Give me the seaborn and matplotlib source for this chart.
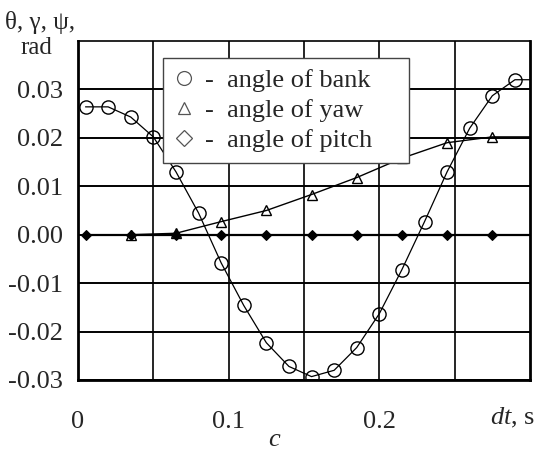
import matplotlib
matplotlib.use("Agg")
import matplotlib.pyplot as plt
from matplotlib.lines import Line2D
import seaborn as sns
import pandas as pd

# data
bank_t = [0.005, 0.02, 0.035, 0.05, 0.065, 0.08, 0.095, 0.11, 0.125, 0.14,
          0.155, 0.17, 0.185, 0.2, 0.215, 0.23, 0.245, 0.26, 0.275, 0.29, 0.3]
bank = [0.0264, 0.0264, 0.0243, 0.0202, 0.0130, 0.0045, -0.0058, -0.0146, -0.0223, -0.0272,
        -0.0293, -0.0280, -0.0233, -0.0163, -0.0072, 0.0027, 0.0130, 0.0220, 0.0287, 0.0320, 0.0320]

yaw_t = [0.035, 0.065, 0.095, 0.125, 0.155, 0.185, 0.215, 0.245, 0.275, 0.3]
yaw = [0.0, 0.0003, 0.0027, 0.0050, 0.0083, 0.0118, 0.0158, 0.0190, 0.0202, 0.0202]

pitch_t = [0.005, 0.035, 0.065, 0.095, 0.125, 0.155, 0.185, 0.215, 0.245, 0.275, 0.3]
pitch = [0.0, 0.0, 0.0, 0.0, 0.0, 0.0, 0.0, 0.0, 0.0, 0.0, 0.0]

x_ticks = [0.0, 0.1, 0.2]
x_labels = ["0", "0.1", "0.2"]
y_ticks = [-0.03, -0.02, -0.01, 0.0, 0.01, 0.02, 0.03]
y_labels = ["-0.03", "-0.02", "-0.01", "0.00", "0.01", "0.02", "0.03"]
legend_labels = ["-  angle of bank", "-  angle of yaw", "-  angle of pitch"]

sns.set_style("white")
plt.rcParams['font.family'] = ['Liberation Serif', 'DejaVu Serif']
plt.rcParams['mathtext.fontset'] = 'custom'
plt.rcParams['mathtext.rm'] = 'Liberation Serif'
plt.rcParams['mathtext.it'] = 'Liberation Serif:italic'

fig = plt.figure(figsize=(5.36, 4.54), dpi=100)
ax = fig.add_axes([0.1455, 0.163, 0.8433, 0.7467])

# grid
for gx in [0.05, 0.1, 0.15, 0.2, 0.25]:
    ax.axvline(gx, color="black", lw=1.2, zorder=0)
for gy in y_ticks:
    ax.axhline(gy, color="black", lw=1.4, zorder=0)

df_bank = pd.DataFrame({"t": bank_t, "v": bank})
df_yaw = pd.DataFrame({"t": yaw_t, "v": yaw})
df_pitch = pd.DataFrame({"t": pitch_t, "v": pitch})

sns.lineplot(data=df_pitch, x="t", y="v", ax=ax, color="black", lw=1.6,
             marker="D", markersize=5.5, markerfacecolor="black", markeredgecolor="black",
             markevery=list(range(len(pitch_t) - 1)), zorder=3)
sns.lineplot(data=df_yaw, x="t", y="v", ax=ax, color="black", lw=1.0,
             marker="^", markersize=7, markerfacecolor="none", markeredgecolor="black",
             markeredgewidth=1.0, markevery=list(range(len(yaw_t) - 1)), zorder=3)
sns.lineplot(data=df_bank, x="t", y="v", ax=ax, color="black", lw=0.9,
             marker="o", markersize=9.5, markerfacecolor="none", markeredgecolor="black",
             markeredgewidth=1.0, markevery=list(range(len(bank_t) - 1)), zorder=4)

ax.set_xlim(0, 0.3)
ax.set_ylim(-0.03, 0.04)
ax.set_xticks(x_ticks)
ax.set_xticklabels(x_labels)
ax.set_yticks(y_ticks)
ax.set_yticklabels(y_labels)
ax.tick_params(axis="x", length=0, pad=22, labelsize=19)
ax.tick_params(axis="y", length=0, pad=11, labelsize=19)
ax.set_xlabel("")
ax.set_ylabel("")
for s in ax.spines.values():
    s.set_color("black")
    s.set_linewidth(2)
ax.spines["top"].set_linewidth(1.2)

handles = [
    Line2D([], [], ls="none", marker="o", ms=10, mfc="none", mec="#555555", mew=0.9),
    Line2D([], [], ls="none", marker="^", ms=9, mfc="none", mec="#555555", mew=0.9),
    Line2D([], [], ls="none", marker="D", ms=8, mfc="none", mec="#555555", mew=0.9),
]
leg = ax.legend(handles, [lab + "\u00a0\u00a0\u00a0\u00a0" for lab in legend_labels],
                loc="upper left", bbox_to_anchor=(0.188, 0.95),
                borderaxespad=0, fontsize=19, frameon=True, fancybox=False,
                handlelength=0.8, handletextpad=0.4, labelspacing=0.25,
                borderpad=0.4)
leg.get_frame().set_edgecolor("#444444")
leg.get_frame().set_linewidth(1.0)
leg.get_frame().set_alpha(1)
leg.set_zorder(5)

fig.text(40 / 536, 1 - 22 / 454, "θ, γ, ψ,", ha="center", va="center", fontsize=18)
fig.text(36 / 536, 1 - 48 / 454, "rad", ha="center", va="center", fontsize=18)
fig.text(513 / 536, 1 - 418 / 454, "$dt$, s", ha="center", va="center", fontsize=19)
fig.text(275 / 536, 1 - 440 / 454, "$c$", ha="center", va="center", fontsize=19)

fig.savefig("out.png", dpi=100)
